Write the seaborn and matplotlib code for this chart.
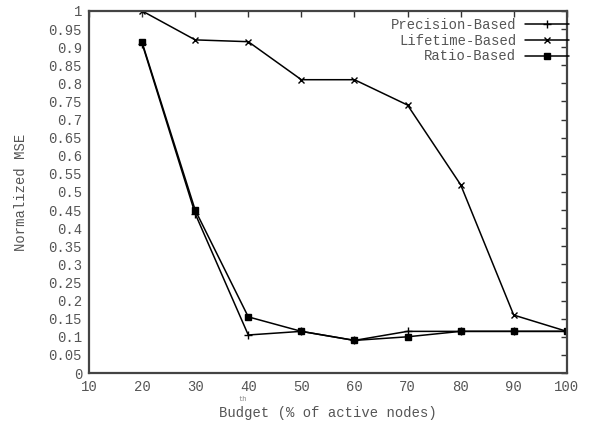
import matplotlib
matplotlib.use("Agg")
import matplotlib.pyplot as plt
import seaborn as sns
import pandas as pd
import numpy as np

budget = [20, 30, 40, 50, 60, 70, 80, 90, 100]
precision_based = [0.91, 0.44, 0.105, 0.115, 0.09, 0.115, 0.115, 0.115, 0.115]
lifetime_based = [1.0, 0.92, 0.915, 0.81, 0.81, 0.74, 0.52, 0.16, 0.115]
ratio_based = [0.913, 0.45, 0.155, 0.115, 0.09, 0.10, 0.115, 0.115, 0.115]
series_names = ["Precision-Based", "Lifetime-Based", "Ratio-Based"]
x_ticks = [10, 20, 30, 40, 50, 60, 70, 80, 90, 100]
y_ticks = [round(0.05 * i, 2) for i in range(21)]

df = pd.DataFrame({
    "Budget": budget * 3,
    "MSE": precision_based + lifetime_based + ratio_based,
    "Series": sum([[n] * len(budget) for n in series_names], []),
})

sns.set_style("white")
plt.rcParams["font.family"] = ["Liberation Mono", "DejaVu Sans Mono"]
text_color = "#555555"

fig = plt.figure(figsize=(6.03, 4.23), dpi=100)
ax = fig.add_axes([0.1476, 0.1182, 0.7924, 0.856])

markers = {"Precision-Based": "+", "Lifetime-Based": "x", "Ratio-Based": "s"}
sizes = {"Precision-Based": 6, "Lifetime-Based": 5, "Ratio-Based": 4}
for name in series_names:
    sub = df[df["Series"] == name]
    sns.lineplot(data=sub, x="Budget", y="MSE", ax=ax, color="black",
                 linewidth=1.1, marker=markers[name], markersize=sizes[name],
                 markeredgecolor="black", markerfacecolor="black",
                 markeredgewidth=1.0, label=name)

ax.set_xlim(10, 100)
ax.set_ylim(0, 1)
ax.set_xticks(x_ticks)
ax.set_yticks(y_ticks)
ax.set_yticklabels([("%g" % v) for v in y_ticks])
ax.tick_params(direction="in", length=4, width=1.0, color="#333333",
               labelsize=10, labelcolor=text_color, top=True, right=True,
               pad=5)
for s in ax.spines.values():
    s.set_color("#444444")
    s.set_linewidth(1.6)

ax.set_xlabel("Budget (% of active nodes)", fontsize=10, color=text_color, labelpad=9)
ax.set_ylabel("Normalized MSE", fontsize=10, color=text_color, labelpad=15)

leg = ax.legend(loc="upper right", bbox_to_anchor=(1.005, 0.98),
                frameon=False, markerfirst=False,
                fontsize=10, handlelength=3.2, handletextpad=0.6,
                borderaxespad=0.0, borderpad=0.0, labelspacing=0.12)
for t in leg.get_texts():
    t.set_color(text_color)
    t.set_ha("right")

fig.text(243 / 603, 1 - 399 / 423, "th", fontsize=5, color="#888888",
         ha="center", va="center")

fig.savefig("out.png", dpi=100)
